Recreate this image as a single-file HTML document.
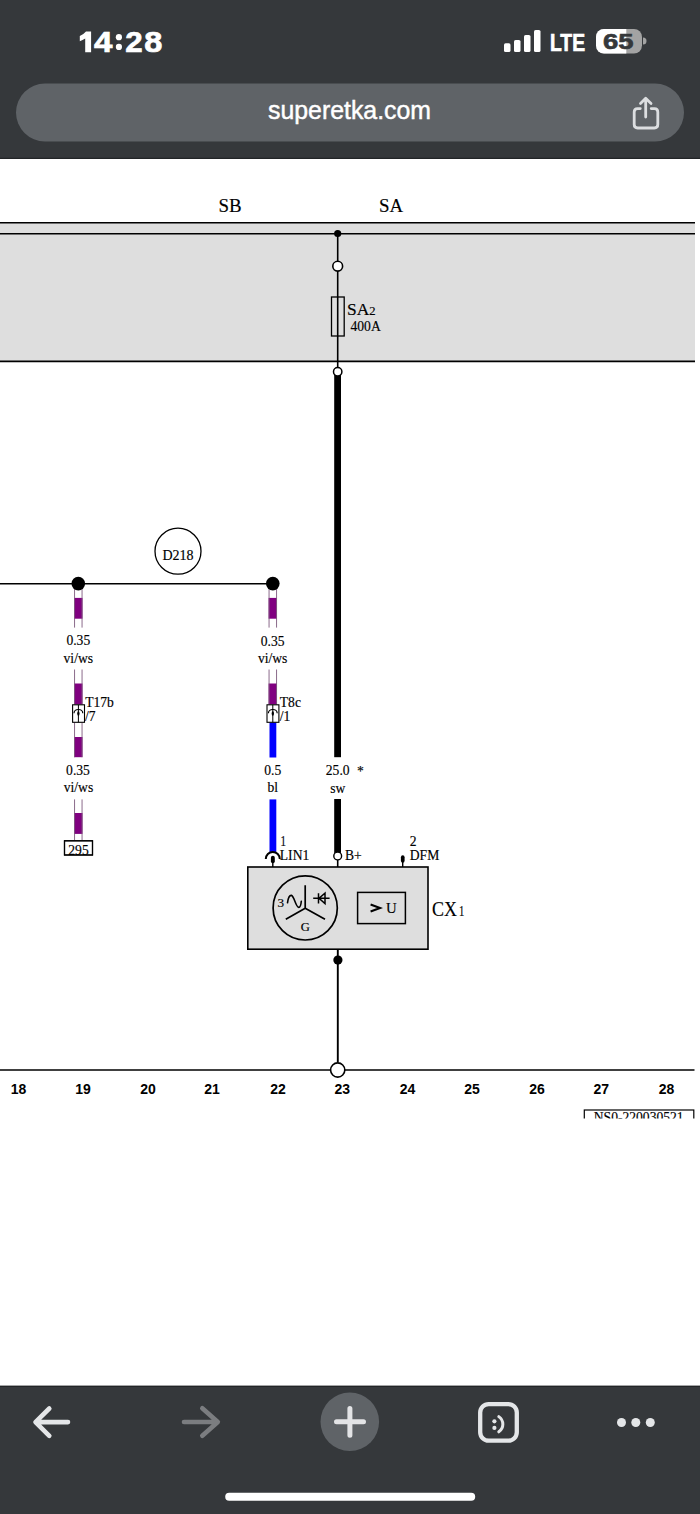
<!DOCTYPE html>
<html><head><meta charset="utf-8">
<style>
html,body{margin:0;padding:0;background:#fff;}
body{width:700px;height:1514px;overflow:hidden;position:relative;}
svg{position:absolute;left:0;top:0;display:block;}
.s{font-family:"Liberation Serif",serif;fill:#000;stroke:#000;stroke-width:0.16px;}
.a{font-family:"Liberation Sans",sans-serif;}
</style></head><body>
<svg width="700" height="1514" viewBox="0 0 700 1514">
<!-- ===== top bar ===== -->
<rect x="0" y="0" width="700" height="159" fill="#35383b"/>
<rect x="0" y="157.8" width="700" height="1" fill="#1f2124"/>
<g fill="#fff">
<path d="M91.1 31.5 V52.3 H85.2 V38.6 Q82.6 40.4 79.8 41.2 V36 Q83.6 34.4 86 31.5 Z"/>
<circle cx="118.9" cy="37.2" r="3.1"/><circle cx="118.9" cy="46.9" r="3.1"/>
<g class="a" font-size="30.4" font-weight="bold" stroke="#fff" stroke-width="0.7">
<text transform="translate(94.0 52.2) scale(1.09 1)">4</text>
<text transform="translate(125.3 52.2) scale(1.03 1)">2</text>
<text transform="translate(144.2 52.2) scale(1.07 1)">8</text>
</g></g>
<g fill="#fff">
<rect x="504" y="43.3" width="6.5" height="8.7" rx="1.6"/>
<rect x="514" y="40" width="6.5" height="12" rx="1.6"/>
<rect x="524" y="35" width="6.5" height="17" rx="1.6"/>
<rect x="534" y="30" width="6.5" height="22" rx="1.6"/>
</g>
<text class="a" x="550" y="51.4" font-size="23.7" font-weight="bold" fill="#fff" stroke="#fff" stroke-width="0.7" textLength="35" lengthAdjust="spacingAndGlyphs">LTE</text>
<rect x="596" y="29" width="46" height="24.5" rx="8" fill="#a3a3a3"/>
<clipPath id="bw"><rect x="590" y="20" width="36.3" height="40"/></clipPath>
<rect x="596" y="29" width="46" height="24.5" rx="8" fill="#fff" clip-path="url(#bw)"/>
<path d="M643 37.5 A3.5 3.5 0 0 1 643 44.5 Z" fill="#a3a3a3"/>
<text class="a" x="603" y="49" font-size="21.6" font-weight="bold" fill="#35383b" stroke="#35383b" stroke-width="0.6" textLength="30.5" lengthAdjust="spacingAndGlyphs">65</text>
<rect x="16" y="83.5" width="668" height="58" rx="29" fill="#5f6367"/>
<text class="a" x="268" y="119.4" font-size="25.5" fill="#fff" stroke="#fff" stroke-width="0.45" textLength="163" lengthAdjust="spacingAndGlyphs">superetka.com</text>
<g fill="none" stroke="#dcdee0" stroke-width="2.8" stroke-linecap="round" stroke-linejoin="round">
<path d="M640.3 108.6 H637.6 Q634.2 108.6 634.2 112 V124.6 Q634.2 128 637.6 128 H654.4 Q657.8 128 657.8 124.6 V112 Q657.8 108.6 654.4 108.6 H651.2"/>
<path d="M645.7 117 V98.5 M640.5 103.5 L645.7 98.3 L651 103.5"/>
</g>

<!-- ===== diagram ===== -->
<g id="diagram">
<text class="s" x="218.5" y="211.8" font-size="18.9">SB</text>
<text class="s" x="379" y="212" font-size="18.9">SA</text>
<rect x="0" y="223" width="695" height="138.5" fill="#dedede"/>
<g stroke="#000" stroke-width="1.6">
<line x1="0" y1="222.7" x2="695" y2="222.7"/>
<line x1="0" y1="233.8" x2="695" y2="233.8"/>
<line x1="0" y1="361.4" x2="695" y2="361.4"/>
<line x1="337.7" y1="233.5" x2="337.7" y2="372"/>
</g>
<circle cx="337.7" cy="233.5" r="3.6" fill="#000"/>
<circle cx="337.7" cy="266.2" r="4.9" fill="#fff" stroke="#000" stroke-width="1.6"/>
<rect x="331.5" y="297" width="12.7" height="39" fill="none" stroke="#000" stroke-width="1.3"/>
<text class="s" x="347" y="315" font-size="17.4">SA<tspan font-size="12.6">2</tspan></text>
<text class="s" x="350.5" y="331" font-size="13.6">400A</text>
<rect x="334.2" y="375" width="6.8" height="382.2" fill="#000"/>
<circle cx="337.7" cy="371.7" r="4.2" fill="#fff" stroke="#000" stroke-width="1.5"/>

<!-- D218 + bus -->
<circle cx="178" cy="551.2" r="23" fill="none" stroke="#000" stroke-width="1.3"/>
<text class="s" x="178" y="559.8" font-size="14" text-anchor="middle">D218</text>
<line x1="0" y1="583.8" x2="272.7" y2="583.8" stroke="#000" stroke-width="1.4"/>
<!-- column 1 wire -->
<rect x="74.10" y="589" width="8.4" height="38.60" fill="#fff"/><rect x="74.10" y="597.9" width="8.4" height="20.80" fill="#800080"/><path d="M74.55 589 V627.6 M82.05 589 V627.6" stroke="#7e5a7e" stroke-width="0.9" fill="none"/>
<rect x="74.10" y="669.5" width="8.4" height="35.00" fill="#fff"/><rect x="74.10" y="683.5" width="8.4" height="21.00" fill="#800080"/><path d="M74.55 669.5 V704.5 M82.05 669.5 V704.5" stroke="#7e5a7e" stroke-width="0.9" fill="none"/>
<rect x="74.10" y="722.5" width="8.4" height="34.70" fill="#fff"/><rect x="74.10" y="737" width="8.4" height="20.20" fill="#800080"/><path d="M74.55 722.5 V757.2 M82.05 722.5 V757.2" stroke="#7e5a7e" stroke-width="0.9" fill="none"/>
<rect x="74.10" y="799.4" width="8.4" height="41.10" fill="#fff"/><rect x="74.10" y="813" width="8.4" height="20.90" fill="#800080"/><path d="M74.55 799.4 V840.5 M82.05 799.4 V840.5" stroke="#7e5a7e" stroke-width="0.9" fill="none"/>
<circle cx="78.3" cy="583.6" r="6.8" fill="#000"/>
<!-- column 2 wire -->
<rect x="268.60" y="589" width="8.4" height="38.60" fill="#fff"/><rect x="268.60" y="597.9" width="8.4" height="20.80" fill="#800080"/><path d="M269.05 589 V627.6 M276.55 589 V627.6" stroke="#7e5a7e" stroke-width="0.9" fill="none"/>
<rect x="268.60" y="669.5" width="8.4" height="35.00" fill="#fff"/><rect x="268.60" y="683.5" width="8.4" height="21.00" fill="#800080"/><path d="M269.05 669.5 V704.5 M276.55 669.5 V704.5" stroke="#7e5a7e" stroke-width="0.9" fill="none"/>
<rect x="269.5" y="722.5" width="6.8" height="35" fill="#0000ff"/>
<rect x="269.5" y="799.4" width="6.8" height="52.5" fill="#0000ff"/>
<circle cx="272.8" cy="583.6" r="6.8" fill="#000"/>
<!-- labels -->
<g class="s" font-size="13.6" text-anchor="middle">
<text x="78.3" y="645.3">0.35</text><text x="78.3" y="662.8">vi/ws</text>
<text x="272.7" y="645.5">0.35</text><text x="272.7" y="662.7">vi/ws</text>
<text x="78" y="775">0.35</text><text x="78.5" y="792.3">vi/ws</text>
<text x="272.7" y="775">0.5</text><text x="272.7" y="792.3">bl</text>
<text x="337.7" y="775">25.0</text><text x="337.7" y="792.5">sw</text>
</g>
<text class="s" x="360.5" y="776" font-size="13.6" text-anchor="middle">*</text>
<!-- connectors -->
<g id="conn">
<rect x="72.6" y="704.8" width="11.9" height="17.5" fill="#fff" stroke="#000" stroke-width="1.1"/>
<line x1="78.4" y1="704.8" x2="78.4" y2="722.3" stroke="#000" stroke-width="1"/>
<path d="M74 713.2 A4.4 3.7 0 0 1 82.8 713.2" fill="none" stroke="#000" stroke-width="1.2"/>
<ellipse cx="78.4" cy="713.5" rx="1.15" ry="2.3" fill="#000"/>
</g>
<use href="#conn" x="194.4"/>
<g class="s" font-size="13.6">
<text x="85.2" y="707">T17b</text><text x="85" y="721">/7</text>
<text x="279.8" y="707">T8c</text><text x="279.8" y="721">/1</text>
</g>
<!-- 295 -->
<rect x="64.5" y="840.8" width="28" height="14.2" fill="#fff" stroke="#000" stroke-width="1.2"/>
<text class="s" x="78.5" y="855" font-size="13.6" text-anchor="middle">295</text>
<rect x="64.5" y="840.8" width="28" height="14.2" fill="none" stroke="#000" stroke-width="1.2"/>
<!-- thick wire lower -->
<rect x="334.2" y="799" width="6.8" height="54" fill="#000"/>
<circle cx="337.7" cy="856" r="3.9" fill="#fff" stroke="#000" stroke-width="1.4"/>
<line x1="337.7" y1="860" x2="337.7" y2="867" stroke="#000" stroke-width="1.6"/>
<!-- pin LIN1 -->
<path d="M265.8 859 A7 7 0 0 1 279.8 859" fill="none" stroke="#000" stroke-width="2"/>
<rect x="270.9" y="855.8" width="3.9" height="7.4" rx="1.9" fill="#000"/>
<line x1="272.8" y1="862" x2="272.8" y2="867" stroke="#000" stroke-width="1.4"/>
<!-- pin DFM -->
<rect x="400.9" y="855.3" width="3.7" height="7.4" rx="1.85" fill="#000"/>
<line x1="402.7" y1="862" x2="402.7" y2="867" stroke="#000" stroke-width="1.4"/>
<g class="s" font-size="13.6">
<text transform="translate(280.6 845.9) scale(0.8 1)">1</text><text x="279.8" y="859.6">LIN1</text>
<text x="345" y="859.5">B+</text>
<text x="409.8" y="845.6">2</text><text x="409.8" y="859.6">DFM</text>
</g>
<!-- generator box -->
<rect x="247.8" y="867" width="180.2" height="82.2" fill="#dedede" stroke="#000" stroke-width="1.6"/>
<circle cx="305.2" cy="907.9" r="32.1" fill="none" stroke="#000" stroke-width="1.7"/>
<path d="M305.2 885.3 V908.2 L285.8 919.3 M305.2 908.2 L325 919.3" fill="none" stroke="#000" stroke-width="1.7"/>
<text class="s" x="277.4" y="906.7" font-size="13.2">3</text>
<path d="M287.5 902.8 C288.2 897.5 289.8 895.2 291.4 895.4 C294.2 895.9 295.8 907.6 298.8 907.4 C300.4 907.3 301 904.5 301.3 901.2" fill="none" stroke="#000" stroke-width="1.6" stroke-linecap="round"/>
<text class="s" x="305.3" y="930.7" font-size="12.6" text-anchor="middle">G</text>
<path d="M313.2 898.3 H329.6 M318.5 893.2 V903.5 M319 898.3 L325 893.2 V903.5 Z" fill="none" stroke="#000" stroke-width="1.5"/>
<rect x="357.6" y="892.4" width="47.8" height="31.2" fill="none" stroke="#000" stroke-width="1.5"/>
<path d="M370.6 904.5 L380 908 L370.6 911.5" fill="none" stroke="#000" stroke-width="2.1"/>
<text class="s" x="386" y="913.4" font-size="14.8">U</text>
<text class="s" x="432" y="916" font-size="20" textLength="25" lengthAdjust="spacingAndGlyphs">CX</text><text class="s" transform="translate(458.9 916) scale(0.78 1)" font-size="13.6">1</text>
<!-- ground -->
<line x1="337.8" y1="949" x2="337.8" y2="1062.2" stroke="#000" stroke-width="1.9"/>
<circle cx="337.9" cy="960.1" r="4.6" fill="#000"/>
<line x1="0" y1="1070.1" x2="694.5" y2="1070.1" stroke="#000" stroke-width="1.5"/>
<circle cx="337.7" cy="1070" r="7.1" fill="#fff" stroke="#000" stroke-width="1.6"/>
<g class="a" font-size="14" font-weight="bold" text-anchor="middle" fill="#000">
<text x="18.5" y="1093.5">18</text><text x="83" y="1093.5">19</text><text x="148" y="1093.5">20</text>
<text x="212" y="1093.5">21</text><text x="278" y="1093.5">22</text><text x="342.2" y="1093.5">23</text>
<text x="407.5" y="1093.5">24</text><text x="472" y="1093.5">25</text><text x="537" y="1093.5">26</text>
<text x="601.2" y="1093.5">27</text><text x="666.6" y="1093.5">28</text>
</g>
<clipPath id="clipb"><rect x="0" y="1100" width="700" height="18.4"/></clipPath>
<g clip-path="url(#clipb)">
<rect x="584.3" y="1110" width="109.5" height="30" fill="none" stroke="#000" stroke-width="1.2"/>
<text class="s" x="688.7" y="1121.8" font-size="13.6" text-anchor="middle" transform="translate(-50,0)">NS0-220030521</text>
</g>
</g>

<!-- ===== bottom toolbar ===== -->
<rect x="0" y="1386" width="700" height="128" fill="#35383b"/>
<rect x="0" y="1385.6" width="700" height="1.2" fill="#1f2124"/>
<g fill="none" stroke-linecap="round" stroke-linejoin="round" stroke-width="4.6">
<path d="M36 1422.1 H68 M49.3 1408.5 L35.5 1422.1 L49.3 1435.8" stroke="#e4e6e8"/>
<path d="M184 1422 H217.5 M202.3 1408.3 L217.8 1422 L202.3 1435.7" stroke="#7b7d80"/>
</g>
<circle cx="349.8" cy="1421.7" r="29.3" fill="#5f6367"/>
<path d="M336.5 1421.8 H363.5 M349.9 1408.5 V1435.2" stroke="#e3e4e6" stroke-width="5" stroke-linecap="round"/>
<rect x="480.2" y="1404.1" width="36.6" height="36.6" rx="8.5" fill="none" stroke="#e4e6e8" stroke-width="4.3"/>
<circle cx="494.4" cy="1421.3" r="2.1" fill="#e4e6e8"/>
<circle cx="494.4" cy="1427.9" r="2.1" fill="#e4e6e8"/>
<path d="M498.8 1416.6 C504.2 1420.6 504.2 1427.8 498.8 1431.8" fill="none" stroke="#e4e6e8" stroke-width="3" stroke-linecap="round"/>
<g fill="#e4e6e8">
<circle cx="621.5" cy="1422.5" r="4.5"/><circle cx="635.8" cy="1422.5" r="4.5"/><circle cx="650.3" cy="1422.5" r="4.5"/>
</g>
<rect x="225.2" y="1492.8" width="250" height="8" rx="4" fill="#fff"/>
</svg>
</body></html>
